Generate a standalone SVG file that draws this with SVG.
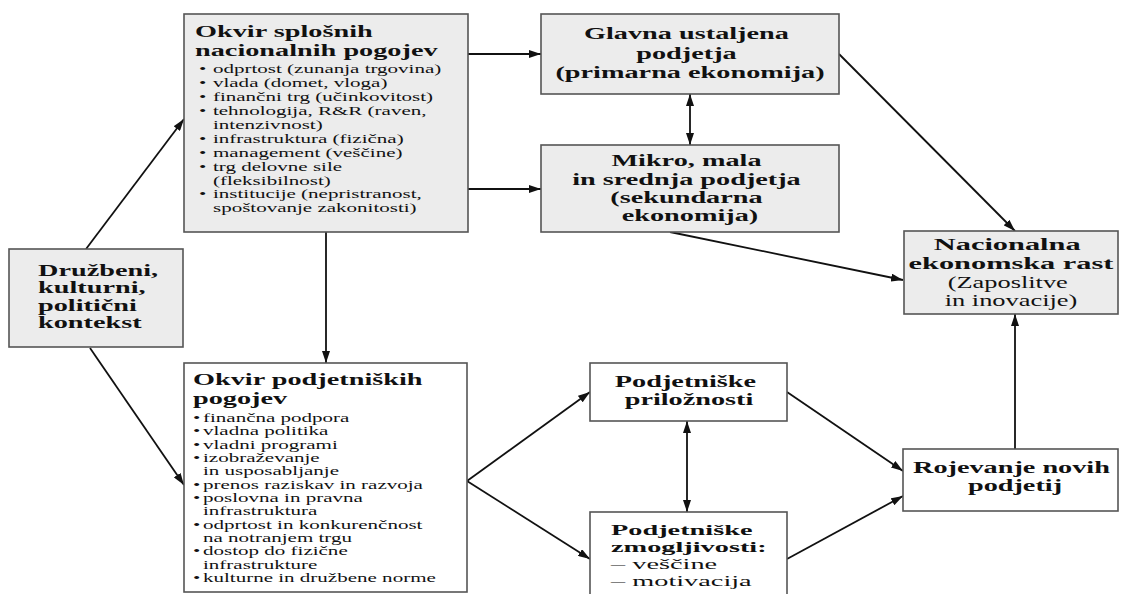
<svg xmlns="http://www.w3.org/2000/svg" width="1121" height="594" viewBox="0 0 1121 594">
<style>
.g{fill:#ececec;stroke:#555;stroke-width:1.6}
.w{fill:#fff;stroke:#555;stroke-width:1.6}
text{font-family:"Liberation Serif","Times New Roman",serif;fill:#111}
.b{font-weight:bold}
.c{text-anchor:middle}
.cn line{stroke:#111;stroke-width:1.8;fill:none}
</style>
<defs>
<marker id="ah" viewBox="0 0 12 8" refX="12" refY="4" markerWidth="12" markerHeight="8" orient="auto-start-reverse" markerUnits="userSpaceOnUse"><path d="M0,0 L12,4 L0,8 z" fill="#111"/></marker>
</defs>
<rect width="1121" height="594" fill="#fff"/>

<g id="connectors" class="cn">
<line x1="86" y1="249" x2="184" y2="119" marker-end="url(#ah)"/>
<line x1="90" y1="348" x2="184" y2="485" marker-end="url(#ah)"/>
<line x1="468" y1="54" x2="541" y2="54" marker-end="url(#ah)"/>
<line x1="468" y1="189" x2="541" y2="189" marker-end="url(#ah)"/>
<line x1="326" y1="232" x2="326" y2="363" marker-end="url(#ah)"/>
<line x1="690" y1="94" x2="690" y2="145" marker-start="url(#ah)" marker-end="url(#ah)"/>
<line x1="839" y1="54" x2="1015" y2="231" marker-end="url(#ah)"/>
<line x1="670" y1="232" x2="903" y2="280" marker-end="url(#ah)"/>
<line x1="1015" y1="449" x2="1015" y2="314" marker-end="url(#ah)"/>
<line x1="467" y1="481" x2="590" y2="392" marker-end="url(#ah)"/>
<line x1="467" y1="481" x2="590" y2="559" marker-end="url(#ah)"/>
<line x1="687" y1="421" x2="687" y2="512" marker-start="url(#ah)" marker-end="url(#ah)"/>
<line x1="787" y1="392" x2="903" y2="471" marker-end="url(#ah)"/>
<line x1="787" y1="559" x2="903" y2="496" marker-end="url(#ah)"/>
</g>

<g id="n-splosni">
<rect class="g" x="184" y="14" width="284" height="218"/>
<g transform="translate(195,0) scale(1.663,1)">
<text class="b" font-size="17">
<tspan x="0" y="37">Okvir splošnih</tspan>
<tspan x="0" y="56">nacionalnih pogojev</tspan>
</text>
</g>
<g transform="translate(199,0) scale(1.682,1)">
<text font-size="12.5">
<tspan x="0" y="73">•</tspan><tspan x="8.3" y="73">odprtost (zunanja trgovina)</tspan>
<tspan x="0" y="87">•</tspan><tspan x="8.3" y="87">vlada (domet, vloga)</tspan>
<tspan x="0" y="101">•</tspan><tspan x="8.3" y="101">finančni trg (učinkovitost)</tspan>
<tspan x="0" y="115">•</tspan><tspan x="8.3" y="115">tehnologija, R&amp;R (raven,</tspan>
<tspan x="8.3" y="129">intenzivnost)</tspan>
<tspan x="0" y="142.9">•</tspan><tspan x="8.3" y="142.9">infrastruktura (fizična)</tspan>
<tspan x="0" y="156.8">•</tspan><tspan x="8.3" y="156.8">management (veščine)</tspan>
<tspan x="0" y="170.7">•</tspan><tspan x="8.3" y="170.7">trg delovne sile</tspan>
<tspan x="8.3" y="184.6">(fleksibilnost)</tspan>
<tspan x="0" y="198.5">•</tspan><tspan x="8.3" y="198.5">institucije (nepristranost,</tspan>
<tspan x="8.3" y="212.4">spoštovanje zakonitosti)</tspan>
</text>
</g>
</g>

<g id="n-glavna">
<rect class="g" x="541" y="14" width="298" height="80"/>
<g transform="translate(690,0) scale(1.663,1)">
<text class="b c" font-size="17">
<tspan x="0" y="39">Glavna ustaljena</tspan>
<tspan x="0" y="59">podjetja</tspan>
<tspan x="0" y="78">(primarna ekonomija)</tspan>
</text>
</g>
</g>

<g id="n-mikro">
<rect class="g" x="541" y="145" width="298" height="87"/>
<g transform="translate(690,0) scale(1.745,1)">
<text class="b c" font-size="16.2">
<tspan x="0" y="166">Mikro, mala</tspan>
<tspan x="0" y="185">in srednja podjetja</tspan>
<tspan x="0" y="203">(sekundarna</tspan>
<tspan x="0" y="221">ekonomija)</tspan>
</text>
</g>
</g>

<g id="n-rast">
<rect class="g" x="904" y="231" width="214" height="83"/>
<g transform="translate(1011,0) scale(1.786,1)">
<text class="b c" font-size="17">
<tspan x="0" y="250">Nacionalna</tspan>
<tspan x="0" y="269">ekonomska rast</tspan>
</text>
</g>
<g transform="translate(1011,0) scale(1.65,1)">
<text class="c" font-size="16">
<tspan x="0" y="288">(Zaposlitve</tspan>
<tspan x="0" y="306">in inovacije)</tspan>
</text>
</g>
</g>

<g id="n-kontekst">
<rect class="g" x="9" y="249" width="174" height="98"/>
<g transform="translate(38,0) scale(1.79,1)">
<text class="b" font-size="15.8">
<tspan x="0" y="276">Družbeni,</tspan>
<tspan x="0" y="293.5">kulturni,</tspan>
<tspan x="0" y="311">politični</tspan>
<tspan x="0" y="328.5">kontekst</tspan>
</text>
</g>
</g>

<g id="n-podjetniski">
<rect class="w" x="184" y="363" width="283" height="229"/>
<g transform="translate(193,0) scale(1.663,1)">
<text class="b" font-size="17">
<tspan x="0" y="385">Okvir podjetniških</tspan>
<tspan x="0" y="404">pogojev</tspan>
</text>
</g>
<g transform="translate(193,0) scale(1.752,1)">
<text font-size="12">
<tspan x="0" y="422">•</tspan><tspan x="5.7" y="422">finančna podpora</tspan>
<tspan x="0" y="435.3">•</tspan><tspan x="5.7" y="435.3">vladna politika</tspan>
<tspan x="0" y="448.7">•</tspan><tspan x="5.7" y="448.7">vladni programi</tspan>
<tspan x="0" y="462">•</tspan><tspan x="5.7" y="462">izobraževanje</tspan>
<tspan x="5.7" y="475.3">in usposabljanje</tspan>
<tspan x="0" y="488.7">•</tspan><tspan x="5.7" y="488.7">prenos raziskav in razvoja</tspan>
<tspan x="0" y="502">•</tspan><tspan x="5.7" y="502">poslovna in pravna</tspan>
<tspan x="5.7" y="515.3">infrastruktura</tspan>
<tspan x="0" y="528.7">•</tspan><tspan x="5.7" y="528.7">odprtost in konkurenčnost</tspan>
<tspan x="5.7" y="542">na notranjem trgu</tspan>
<tspan x="0" y="555.3">•</tspan><tspan x="5.7" y="555.3">dostop do fizične</tspan>
<tspan x="5.7" y="568.7">infrastrukture</tspan>
<tspan x="0" y="582">•</tspan><tspan x="5.7" y="582">kulturne in družbene norme</tspan>
</text>
</g>
</g>

<g id="n-priloznosti">
<rect class="w" x="590" y="363" width="197" height="58"/>
<g transform="translate(689,0) scale(1.745,1)">
<text class="b c" font-size="16.2">
<tspan x="0" y="387">Podjetniške</tspan>
<tspan x="0" y="405">priložnosti</tspan>
</text>
</g>
</g>

<g id="n-zmogljivosti">
<rect class="w" x="590" y="512" width="197" height="90"/>
<g transform="translate(611,0) scale(1.85,1)">
<text font-size="15.3">
<tspan class="b" x="0" y="535">Podjetniške</tspan>
<tspan class="b" x="0" y="552">zmogljivosti:</tspan>
<tspan x="0" y="569">– veščine</tspan>
<tspan x="0" y="586">– motivacija</tspan>
</text>
</g>
</g>

<g id="n-rojevanje">
<rect class="w" x="903" y="449" width="215" height="62"/>
<g transform="translate(1015,0) scale(1.745,1)">
<text class="b c" font-size="16.2">
<tspan x="0" y="473">Rojevanje novih</tspan>
<tspan x="0" y="491">podjetij</tspan>
</text>
</g>
</g>
</svg>
